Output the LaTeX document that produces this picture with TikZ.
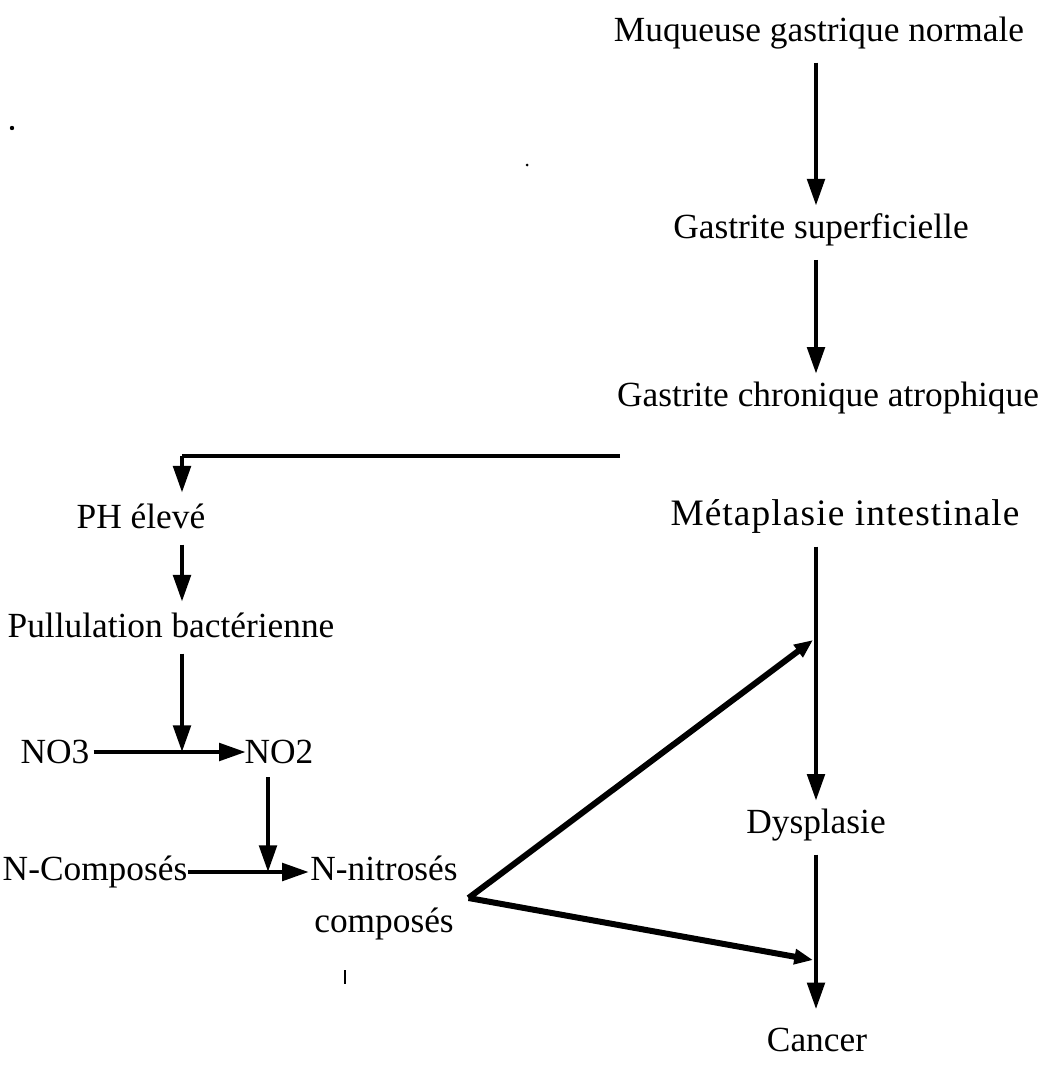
\documentclass[tikz,border=0pt]{standalone}
\usepackage{fontspec}
\setmainfont{Liberation Serif}
\usetikzlibrary{arrows.meta}
\begin{document}
\begin{tikzpicture}[x=0.75pt,y=-0.75pt,
  lbl/.style={inner sep=0pt, font=\fontsize{26.5}{30}\selectfont, align=center},
  arr/.style={line width=3.2pt, -{Triangle[length=20pt,width=13pt]}},
  arrd/.style={line width=4.5pt, -{Triangle[length=14pt,width=11pt]}},
  ln/.style={line width=3.5pt}]
\useasboundingbox (0,0) rectangle (1043,1067);
\fill[white] (0,0) rectangle (1043,1067);
% nodes
\node[lbl] (muq) at (819,33) {Muqueuse gastrique normale};
\node[lbl] (gsup) at (821,230) {Gastrite superficielle};
\node[lbl] (gca) at (828,398) {Gastrite chronique atrophique};
\node[lbl, font=\fontsize{28}{30}\selectfont\addfontfeatures{LetterSpace=3}] (meta) at (845,516) {Métaplasie intestinale};
\node[lbl] (dys) at (816,825) {Dysplasie};
\node[lbl] (can) at (817,1040) {Cancer};
\node[lbl] (ph) at (141,516) {PH élevé};
\node[lbl] (pul) at (171,625) {Pullulation bactérienne};
\node[lbl] (no3) at (55,752) {NO3};
\node[lbl] (no2) at (279,752) {NO2};
\node[lbl] (ncomp) at (95,872) {N-Composés};
\node[lbl, font=\fontsize{26.5}{39}\selectfont] (nitro) at (384,898) {N-nitrosés\\composés};
% coordinates
\coordinate (spine) at (816,0);
\coordinate (lcol) at (182,0);
\coordinate (brk) at (620,456);
\coordinate (m1) at (813,640);
\coordinate (m2) at (813,960);
\coordinate (j1) at (182,752);
\coordinate (j2) at (268,872);
% right column
\draw[arr] ([yshift=-10pt]muq.south -| spine) -- ([yshift=6pt]gsup.north -| spine);
\draw[arr] ([yshift=-10pt]gsup.south -| spine) -- ([yshift=6pt]gca.north -| spine);
\draw[arr] ([yshift=-10pt]meta.south -| spine) -- ([yshift=6pt]dys.north -| spine);
\draw[arr] ([yshift=-10pt]dys.south -| spine) -- ([yshift=14pt]can.north -| spine);
% branch
\draw[ln] (brk) -- (brk -| lcol);
\draw[arr] (brk -| lcol) -- ([yshift=8pt]ph.north -| lcol);
\draw[arr] ([yshift=-12pt]ph.south -| lcol) -- ([yshift=8pt]pul.north -| lcol);
\draw[arr] ([yshift=-12pt]pul.south -| lcol) -- (j1);
\draw[arr] ([xshift=3pt]no3.east) -- ([xshift=1pt]no2.west);
\draw[arr] ([yshift=-10pt]no2.south -| j2) -- (j2);
\draw[arr] (ncomp.east) -- ([xshift=-1pt]nitro.north west |- ncomp);
% diagonals
\draw[arrd] ([xshift=8pt]nitro.east) -- (m1);
\draw[arrd] ([xshift=8pt]nitro.east) -- (m2);
% specks
\fill (12,128) circle (2.2);
\fill (527,165) circle (1.5);
\draw[line width=1pt] (345,970) -- (345,984);
\end{tikzpicture}
\end{document}
